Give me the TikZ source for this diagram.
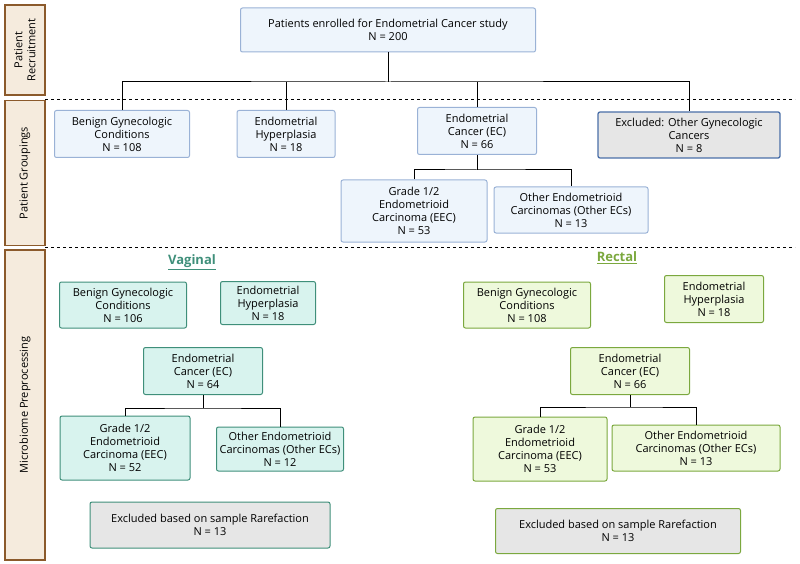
\documentclass[tikz,border=0pt]{standalone}
\usepackage{fontspec}
\setmainfont{Open Sans}
\usetikzlibrary{positioning}
\definecolor{bluefill}{HTML}{EEF5FC}
\definecolor{blueline}{HTML}{9AB2D6}
\definecolor{bluedark}{HTML}{4A6FA8}
\definecolor{tealfill}{HTML}{D8F3EE}
\definecolor{tealline}{HTML}{3F8F7A}
\definecolor{greenfill}{HTML}{EEF9DC}
\definecolor{greenline}{HTML}{7BA83E}
\definecolor{grayfill}{HTML}{E6E6E6}
\definecolor{barfill}{HTML}{F5EBDD}
\definecolor{barline}{HTML}{8B5A2B}
\tikzset{
  box/.style={draw, rounded corners=2pt, line width=1pt, align=center, inner sep=0pt, font=\fontsize{11}{13}\selectfont},
  bluebox/.style={box, fill=bluefill, draw=blueline},
  tealbox/.style={box, fill=tealfill, draw=tealline},
  greenbox/.style={box, fill=greenfill, draw=greenline},
  bar/.style={draw=barline, fill=barfill, line width=1.2pt, minimum height=40pt, inner sep=0pt, align=center, font=\fontsize{11}{13}\selectfont},
  link/.style={line width=1pt},
  sep/.style={dashed, line width=1pt}
}
\begin{document}
\begin{tikzpicture}[x=1pt,y=-1pt]
\useasboundingbox (0,0) rectangle (800,564);
% side bars
\node[bar, minimum width=90pt, rotate=90] (rec) at (25,50) {Patient\\Recruitment};
\node[bar, minimum width=145pt, rotate=90] (grp) at (25,173) {Patient Groupings};
\node[bar, minimum width=310pt, rotate=90] (pre) at (25,405) {Microbiome Preprocessing};
\draw[sep] (45,100) -- (795,100);
\draw[sep] (45,247) -- (795,247);
% recruitment and groupings
\node[bluebox, minimum width=295pt, minimum height=44pt] (all) at (388,30) {Patients enrolled for Endometrial Cancer study\\N = 200};
\node[bluebox, minimum width=135pt, minimum height=47pt] (ben) at (122,134) {Benign Gynecologic\\Conditions\\N = 108};
\node[bluebox, minimum width=98pt, minimum height=47pt] (hyp) at (286,134) {Endometrial\\Hyperplasia\\N = 18};
\node[bluebox, minimum width=119pt, minimum height=47pt] (ec) at (477,131) {Endometrial\\Cancer (EC)\\N = 66};
\node[box, fill=grayfill, draw=bluedark, line width=1.3pt, minimum width=182pt, minimum height=46pt] (exc) at (689,135) {Excluded: Other Gynecologic\\Cancers\\N = 8};
\node[bluebox, minimum width=146pt, minimum height=62pt] (eec) at (414,211) {Grade 1/2\\Endometrioid\\Carcinoma (EEC)\\N = 53};
\node[bluebox, minimum width=154pt, minimum height=46pt] (oth) at (571,210) {Other Endometrioid\\Carcinomas (Other ECs)\\N = 13};
\coordinate (j1) at (388,82);
\draw[link] (all.south) -- (j1);
\draw[link] (ben.north) |- (j1) -| (exc.north);
\draw[link] (hyp.north) -- (hyp.north |- j1);
\draw[link] (ec.north) -- (ec.north |- j1);
\coordinate (j2) at (477,170);
\draw[link] (ec.south) -- (j2);
\draw[link] (eec.north) |- (j2) -| (oth.north);
% vaginal
\node[font=\bfseries\fontsize{13}{15}\selectfont, text=tealline] (vag) at (192,262) {\underline{Vaginal}};
\node[tealbox, minimum width=127pt, minimum height=46pt] (vben) at (123,305) {Benign Gynecologic\\Conditions\\N = 106};
\node[tealbox, minimum width=95pt, minimum height=43pt] (vhyp) at (268,303) {Endometrial\\Hyperplasia\\N = 18};
\node[tealbox, minimum width=119pt, minimum height=47pt] (vec) at (203,371) {Endometrial\\Cancer (EC)\\N = 64};
\node[tealbox, minimum width=130pt, minimum height=64pt] (veec) at (125,448) {Grade 1/2\\Endometrioid\\Carcinoma (EEC)\\N = 52};
\node[tealbox, minimum width=127pt, minimum height=44pt] (voth) at (280,449) {Other Endometrioid\\Carcinomas (Other ECs)\\N = 12};
\node[box, fill=grayfill, draw=tealline, minimum width=240pt, minimum height=46pt] (vexc) at (210,525) {Excluded based on sample Rarefaction\\N = 13};
\coordinate (j3) at (203,408);
\draw[link] (vec.south) -- (j3);
\draw[link] (veec.north) |- (j3) -| (voth.north);
% rectal
\node[font=\bfseries\fontsize{13}{15}\selectfont, text=greenline] (rect) at (617,258) {\underline{Rectal}};
\node[greenbox, minimum width=127pt, minimum height=46pt] (rben) at (527,305) {Benign Gynecologic\\Conditions\\N = 108};
\node[greenbox, minimum width=99pt, minimum height=47pt] (rhyp) at (714,299) {Endometrial\\Hyperplasia\\N = 18};
\node[greenbox, minimum width=119pt, minimum height=47pt] (rec2) at (630,371) {Endometrial\\Cancer (EC)\\N = 66};
\node[greenbox, minimum width=134pt, minimum height=64pt] (reec) at (540,449) {Grade 1/2\\Endometrioid\\Carcinoma (EEC)\\N = 53};
\node[greenbox, minimum width=168pt, minimum height=46pt] (roth) at (696,448) {Other Endometrioid\\Carcinomas (Other ECs)\\N = 13};
\node[box, fill=grayfill, draw=greenline, minimum width=245pt, minimum height=45pt] (rexc) at (618,531) {Excluded based on sample Rarefaction\\N = 13};
\coordinate (j4) at (630,407);
\draw[link] (rec2.south) -- (j4);
\draw[link] (reec.north) |- (j4) -| (roth.north);
\end{tikzpicture}
\end{document}
